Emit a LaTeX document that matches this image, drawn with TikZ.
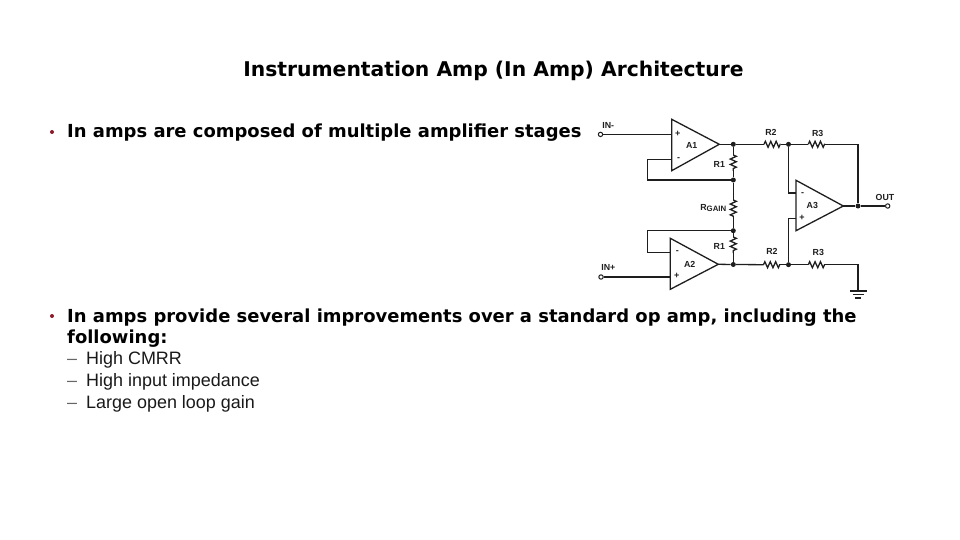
\documentclass[tikz,border=0pt]{standalone}
\usepackage{fontspec}
\setmainfont{Liberation Sans}
\newfontfamily\headfont{DejaVu Sans}
\usetikzlibrary{decorations.pathmorphing}
\definecolor{bulletred}{HTML}{8B1A2B}
\definecolor{wirecol}{HTML}{1E1E1E}
\tikzset{
	wire/.style={line width=1.3pt, color=wirecol},
	res/.style={wire, line join=miter, decorate, decoration={zigzag, segment length=5.4pt, amplitude=3pt}},
	dot/.style={circle, fill=wirecol, inner sep=0pt, minimum size=5pt},
	term/.style={circle, draw=wirecol, fill=white, line width=1pt, inner sep=0pt, minimum size=4.4pt},
	part/.style={font=\fontsize{8.8}{10}\selectfont\bfseries, color=wirecol, inner sep=0pt},
	sign/.style={font=\fontsize{9}{10}\selectfont\bfseries, color=wirecol, inner sep=0pt},
	head/.style={font=\headfont\fontsize{17.95}{22}\selectfont\bfseries, anchor=base west, inner sep=0pt},
	titlehead/.style={font=\headfont\fontsize{20.3}{22}\selectfont\bfseries, anchor=base, inner sep=0pt},
	sub/.style={font=\fontsize{17.95}{20}\selectfont, anchor=base west, inner sep=0pt, color=black!90},
	dashmark/.style={font=\fontsize{17.95}{20}\selectfont, anchor=base west, inner sep=0pt, color=black!60},
	bull/.style={circle, fill=bulletred, inner sep=0pt, minimum size=4pt}
}
\begin{document}
\begin{tikzpicture}[x=1pt, y=-1pt]
	%%%%% START %%%%%
	\useasboundingbox (0, 0) rectangle (960, 540);

	\node[titlehead] (title) at (493.5, 77) {Instrumentation Amp (In Amp) Architecture};

	\node[bull] (bulla) at (52, 132) {};
	\node[head] (itema) at (67, 137.5) {In amps are composed of multiple amplifier stages};
	\node[bull] (bullb) at (52, 316) {};
	\node[head] (itemb) at (67, 322) {In amps provide several improvements over a standard op amp, including the};
	\node[head] (itemc) at (67, 343.5) {following:};

	\node[dashmark] (marka) at (67, 364) {--};
	\node[sub] (suba) at (86, 364) {High CMRR};
	\node[dashmark] (markb) at (67, 386) {--};
	\node[sub] (subb) at (86, 386) {High input impedance};
	\node[dashmark] (markc) at (67, 408) {--};
	\node[sub] (subc) at (86, 408) {Large open loop gain};

	% amplifier bodies
	\draw[wire, line join=miter] (671.7, 119.3) -- (671.7, 170.7) -- (719.3, 144.3) -- cycle;
	\draw[wire, line join=miter] (670.3, 238.3) -- (670.3, 289.3) -- (718.3, 264.3) -- cycle;
	\draw[wire, line join=miter] (796, 180.3) -- (796, 230.7) -- (843.3, 206) -- cycle;
	\node[part] (aone) at (691.7, 145) {A1};
	\node[part] (atwo) at (689.7, 264.3) {A2};
	\node[part] (athree) at (812.3, 205.7) {A3};
	\node[sign] (pa) at (677.7, 134) {+};
	\node[sign] (ma) at (678.7, 159.3) {-};
	\node[sign] (mb) at (677.3, 252.3) {-};
	\node[sign] (pb) at (676.7, 276) {+};
	\node[sign] (mc) at (802.7, 194) {-};
	\node[sign] (pc) at (802, 217.7) {+};

	% pins and resistor ends
	\coordinate (apin) at (671.7, 134.4);
	\coordinate (aneg) at (671.7, 159.4);
	\coordinate (aout) at (719.3, 144.3);
	\coordinate (bneg) at (670.3, 252.3);
	\coordinate (bpin) at (670.3, 277);
	\coordinate (bout) at (718.3, 264.3);
	\coordinate (cneg) at (796, 193);
	\coordinate (cpos) at (796, 218.7);
	\coordinate (cout) at (843.3, 206);
	\coordinate (aleft) at (647.3, 159.4);
	\coordinate (afoot) at (647.3, 180);
	\coordinate (bleft) at (647.3, 230.7);
	\coordinate (bfoot) at (647.3, 252.3);
	\coordinate (cnegl) at (788.5, 193);
	\coordinate (cposl) at (788.5, 218.7);
	\coordinate (topr) at (858, 144.3);
	\coordinate (lowr) at (858, 264.7);
	\coordinate (gnd) at (858, 291);

	\node[term] (inm) at (600.5, 134.4) {};
	\node[term] (inp) at (601, 277) {};
	\node[term] (out) at (887.7, 206) {};
	\node[dot] (ja) at (733.3, 144.3) {};
	\node[dot] (jb) at (733.3, 180) {};
	\node[dot] (jc) at (733.3, 230.7) {};
	\node[dot] (jd) at (733.3, 264.5) {};
	\node[dot] (je) at (788.5, 144.3) {};
	\node[dot] (jf) at (788.5, 264.7) {};
	\node[dot] (jg) at (858, 206) {};

	\coordinate (ronea) at (733.3, 155);
	\coordinate (roneb) at (733.3, 171);
	\coordinate (rgaina) at (733.3, 200);
	\coordinate (rgainb) at (733.3, 217);
	\coordinate (rtwoa) at (733.3, 237);
	\coordinate (rtwob) at (733.3, 253);
	\coordinate (rtopa) at (764, 144.3);
	\coordinate (rtopb) at (780.5, 144.3);
	\coordinate (rtopc) at (808.3, 144.3);
	\coordinate (rtopd) at (825, 144.3);
	\coordinate (rlowa) at (763.5, 264.7);
	\coordinate (rlowb) at (780, 264.7);
	\coordinate (rlowc) at (808.3, 264.7);
	\coordinate (rlowd) at (825, 264.7);

	% wires
	\draw[wire] (inm) -- (apin);
	\draw[wire] (inp) -- (bpin);
	\draw[wire] (aneg) -- (aleft) -- (afoot) -- (jb);
	\draw[wire] (bneg) -- (bfoot) -- (bleft) -- (jc);
	\draw[wire] (aout) -- (ja) -- (rtopa);
	\draw[wire] (bout) -- (jd) -- (rlowa);
	\draw[wire] (ja) -- (ronea);
	\draw[res] (ronea) -- (roneb);
	\draw[wire] (roneb) -- (jb) -- (rgaina);
	\draw[res] (rgaina) -- (rgainb);
	\draw[wire] (rgainb) -- (jc) -- (rtwoa);
	\draw[res] (rtwoa) -- (rtwob);
	\draw[wire] (rtwob) -- (jd);
	\draw[res] (rtopa) -- (rtopb);
	\draw[wire] (rtopb) -- (je) -- (rtopc);
	\draw[res] (rtopc) -- (rtopd);
	\draw[wire] (rtopd) -- (topr) -- (jg);
	\draw[res] (rlowa) -- (rlowb);
	\draw[wire] (rlowb) -- (jf) -- (rlowc);
	\draw[res] (rlowc) -- (rlowd);
	\draw[wire] (rlowd) -- (lowr) -- (gnd);
	\draw[wire] (je) -- (cnegl) -- (cneg);
	\draw[wire] (jf) -- (cposl) -- (cpos);
	\draw[wire] (cout) -- (jg) -- (out);

	% ground
	\draw[wire] (850, 291) -- (866.7, 291);
	\draw[wire] (852.7, 294.5) -- (864, 294.5);
	\draw[wire] (855, 298) -- (861, 298);

	% labels
	\node[part] (lblinm) at (608.3, 125) {IN-};
	\node[part] (lblinp) at (608.3, 267.3) {IN+};
	\node[part] (lblout) at (885, 197.3) {OUT};
	\node[part] (lblra) at (719.3, 164) {R1};
	\node[part] (lblrb) at (719.3, 246.7) {R1};
	\node[part] (lblgain) at (713.3, 208) {R\raisebox{-1.5pt}{\fontsize{7.8}{9}\selectfont GAIN}};
	\node[part] (lblrc) at (771, 132.7) {R2};
	\node[part] (lblrd) at (817.7, 133.3) {R3};
	\node[part] (lblre) at (772, 251.3) {R2};
	\node[part] (lblrf) at (818.3, 252.3) {R3};
	%%%%% END %%%%%
\end{tikzpicture}
\end{document}
